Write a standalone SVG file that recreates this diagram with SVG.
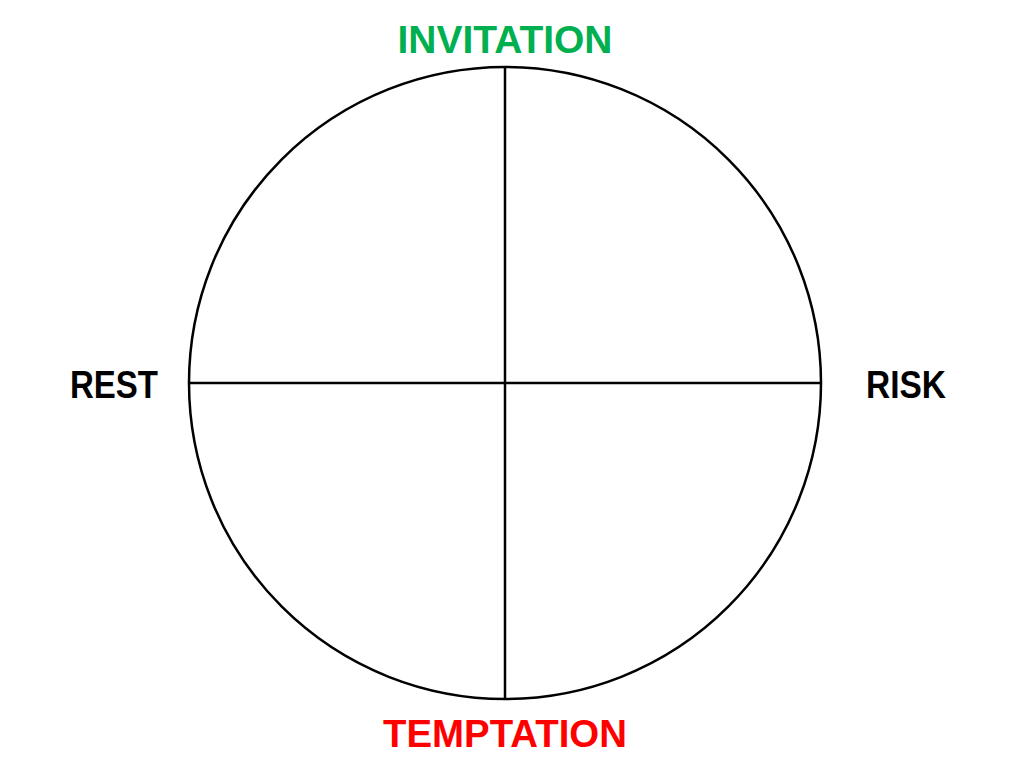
<svg xmlns="http://www.w3.org/2000/svg" width="1024" height="768" viewBox="0 0 1024 768">
<style>
text{font-family:"Liberation Sans",Arial,sans-serif;font-weight:bold;font-size:38px;text-anchor:middle}
.ln{stroke:#000;stroke-width:2.5;fill:none}
</style>
<rect width="1024" height="768" fill="#fff"/>
<g id="circle"><circle class="ln" cx="505" cy="383" r="316"/></g>
<g id="connectors">
<line class="ln" x1="505" y1="67" x2="505" y2="699"/>
<line class="ln" x1="189" y1="383" x2="821" y2="383"/>
</g>
<g id="invitation"><text x="505" y="53" fill="#00B050" textLength="215" lengthAdjust="spacingAndGlyphs">INVITATION</text></g>
<g id="temptation"><text x="505" y="747" fill="#FF0000" textLength="244" lengthAdjust="spacingAndGlyphs">TEMPTATION</text></g>
<g id="rest"><text x="114" y="398" fill="#000" textLength="88" lengthAdjust="spacingAndGlyphs">REST</text></g>
<g id="risk"><text x="906" y="398" fill="#000" textLength="80" lengthAdjust="spacingAndGlyphs">RISK</text></g>
</svg>
